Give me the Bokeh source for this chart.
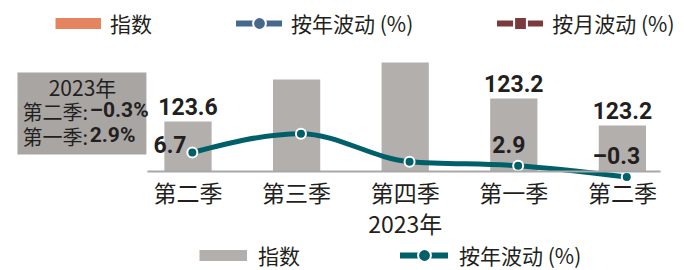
import numpy as np
from bokeh.plotting import figure
from bokeh.models import (Range1d, LinearAxis, FixedTicker, Legend, LegendItem,
                          BoxAnnotation, ColumnDataSource)
from bokeh.core.properties import value
from bokeh.embed import file_html
from bokeh.resources import INLINE

# ---------------- data ----------------
quarters = ["第二季", "第三季", "第四季", "第一季", "第二季"]
year_note = ["", "", "2023年", "", ""]
bar_heights = [50, 92, 109, 73, 46]          # bar heights as drawn (index chart)
index_labels = ["123.6", "", "", "123.2", "123.2"]
yoy_change = [6.7, 12.1, 4.1, 2.9, -0.3]     # 按年波动 (%)
yoy_labels = ["6.7", "", "", "2.9", "–0.3"]
note_title = "2023年"
note_rows = ["第二季: ", "第一季: "]
note_values = ["–0.3%", "2.9%"]
legend_top = ["指数", "按年波动 (%)", "按月波动 (%)"]
legend_bottom = ["指数", "按年波动 (%)"]

# ---------------- style ----------------
CJK = "Noto Sans CJK SC"
BOLD = "Roboto"
DARK = "#231f20"
BAR = "#b3afac"
BOXC = "#a8a5a3"
TEAL = "#00606a"
ORANGE = "#e5855f"
BLUE = "#44698c"
MAROON = "#7b3b3c"

xs = np.arange(len(quarters), dtype=float)
line_x = xs + 0.04

p = figure(width=684, height=270, output_backend="svg", toolbar_location=None,
           x_range=Range1d(-1.7265, 4.5718), y_range=Range1d(-99, 171),
           x_axis_location=None, y_axis_location=None, min_border=0)
p.extra_y_ranges = {"pct": Range1d(-27.0, 50.143)}
p.grid.visible = False
p.outline_line_color = None
p.background_fill_color = "white"
p.border_fill_color = "white"

# x axis on the baseline
ax = LinearAxis(ticker=FixedTicker(ticks=list(xs)),
                major_label_overrides={i: q for i, q in enumerate(quarters)},
                fixed_location=0, bounds=(-0.373, 4.35))
ax.axis_line_color = "#a8a8a8"
ax.axis_line_width = 2
ax.major_tick_line_color = None
ax.minor_tick_line_color = None
ax.major_tick_out = 0
ax.major_tick_in = 0
ax.major_label_standoff = 3
ax.major_label_text_font = CJK
ax.major_label_text_font_size = "23px"
ax.major_label_text_color = DARK
p.add_layout(ax, "below")
p.text(x=xs, y=[-51] * len(xs), text=year_note, text_align="center",
       text_baseline="middle", text_font=value(CJK), text_font_size="23px",
       text_color=DARK)

# bars
bsrc = ColumnDataSource(dict(x=xs, h=bar_heights, lab=index_labels))
p.vbar(x="x", top="h", width=0.435, source=bsrc, fill_color=BAR, line_color=None)
p.text(x="x", y="h", text="lab", source=bsrc, y_offset=-15.5, text_align="center",
       text_baseline="middle", text_font=value(BOLD), text_font_style="bold",
       text_font_size="23px", text_color=DARK)

# smooth (monotone cubic) yoy line drawn as bezier segments through the data points
def monotone_tangents(x, y):
    n = len(x)
    h = np.diff(x)
    s = np.diff(y) / h
    m = np.zeros(n)
    for i in range(1, n - 1):
        pp = (s[i - 1] * h[i] + s[i] * h[i - 1]) / (h[i - 1] + h[i])
        m[i] = (np.sign(s[i - 1]) + np.sign(s[i])) * min(abs(s[i - 1]), abs(s[i]), 0.5 * abs(pp))
    m[0] = (3 * s[0] - m[1]) / 2
    m[-1] = (3 * s[-1] - m[-2]) / 2
    return m

yv = np.array(yoy_change, dtype=float)
m = monotone_tangents(line_x, yv)
h = np.diff(line_x)
seg = ColumnDataSource(dict(
    x0=line_x[:-1], y0=yv[:-1], x1=line_x[1:], y1=yv[1:],
    cx0=line_x[:-1] + h / 3, cy0=yv[:-1] + m[:-1] * h / 3,
    cx1=line_x[1:] - h / 3, cy1=yv[1:] - m[1:] * h / 3))
p.bezier(x0="x0", y0="y0", x1="x1", y1="y1", cx0="cx0", cy0="cy0", cx1="cx1", cy1="cy1",
         source=seg, y_range_name="pct", line_color=TEAL, line_width=5)
p.scatter(x=line_x, y=yv, y_range_name="pct", marker="circle", size=10,
          fill_color=TEAL, line_color="white", line_width=2)

lsrc = ColumnDataSource(dict(x=xs, y=yv, t=yoy_labels,
                             dx=[-18, 0, 0, -5, -6], dy=[-8, 0, 0, -21, -21]))
p.text(x="x", y="y", text="t", source=lsrc, x_offset="dx", y_offset="dy",
       y_range_name="pct", text_align="center", text_baseline="middle",
       text_font=value(BOLD), text_font_style="bold", text_font_size="23px",
       text_color=DARK)

# note box
box = BoxAnnotation(left=-1.570, right=-0.383, top=99, bottom=17,
                    fill_color=BOXC, fill_alpha=1, line_color=None, level="underlay")
p.add_layout(box)
p.text(x=[-0.9715], y=[84.5], text=[note_title], text_align="center",
       text_baseline="middle", text_font=value(CJK), text_font_size="21px",
       text_color=DARK)
p.text(x=[-1.524, -1.524], y=[60, 35], text=note_rows, text_align="left",
       text_baseline="middle", text_font=value(CJK), text_font_size="20px",
       text_color=DARK)
p.text(x=[-0.905, -0.905], y=[61.5, 36.5], text=note_values, text_align="left",
       text_baseline="middle", text_font=value(BOLD), text_font_style="bold",
       text_font_size="21px", text_color=DARK)

# legend glyph renderers (legend-only, no visible data)
nan = [np.nan]
r_o = p.line(x=nan, y=nan, line_color=ORANGE, line_width=11, line_cap="butt")
r_bl = p.line(x=nan, y=nan, line_color=BLUE, line_width=6, line_cap="round")
r_bm = p.scatter(x=nan, y=nan, marker="circle", fill_color=BLUE,
                 line_color="white", line_width=2)
r_ml = p.line(x=nan, y=nan, line_color=MAROON, line_width=6, line_cap="round")
r_mm = p.scatter(x=nan, y=nan, marker="square", fill_color=MAROON,
                 line_color="white", line_width=2)

r_g = p.line(x=nan, y=nan, line_color=BAR, line_width=11, line_cap="butt")
r_tl = p.line(x=nan, y=nan, line_color=TEAL, line_width=6, line_cap="round")
r_tm = p.scatter(x=nan, y=nan, marker="circle", fill_color=TEAL,
                 line_color="white", line_width=2)

def style_legend(lg):
    lg.orientation = "horizontal"
    lg.padding = 0
    lg.margin = 0
    lg.border_line_color = None
    lg.background_fill_alpha = 0
    lg.label_text_font = CJK
    lg.label_text_font_size = "21px"
    lg.label_text_color = DARK
    lg.glyph_height = 32

leg1 = Legend(items=[LegendItem(label=legend_top[0], renderers=[r_o]),
                     LegendItem(label=legend_top[1], renderers=[r_bl, r_bm]),
                     LegendItem(label=legend_top[2], renderers=[r_ml, r_mm])],
              location=(55, 231.5))
style_legend(leg1)
leg1.glyph_width = 46
leg1.label_standoff = 9
leg1.spacing = 84
p.add_layout(leg1)

leg2 = Legend(items=[LegendItem(label=legend_bottom[0], renderers=[r_g]),
                     LegendItem(label=legend_bottom[1], renderers=[r_tl, r_tm])],
              location=(199, -1))
style_legend(leg2)
leg2.glyph_width = 48
leg2.label_standoff = 11
leg2.spacing = 100
p.add_layout(leg2)

open("out.html", "w").write(file_html(p, INLINE))
